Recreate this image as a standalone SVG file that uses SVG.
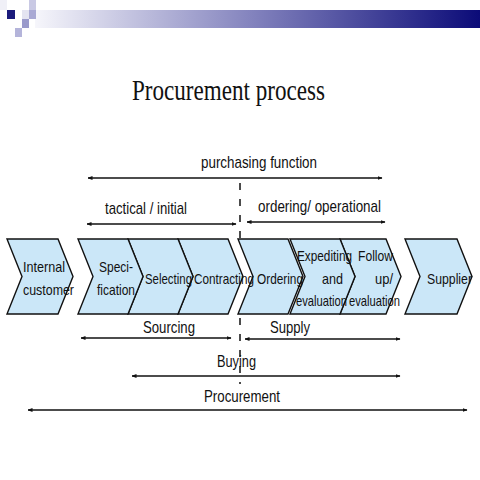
<svg xmlns="http://www.w3.org/2000/svg" width="480" height="480" viewBox="0 0 480 480">
<defs>
<linearGradient id="bar" x1="0" y1="0" x2="1" y2="0">
<stop offset="0" stop-color="#f6f6fb"/>
<stop offset="0.5" stop-color="#8080bc"/>
<stop offset="1" stop-color="#0b0b78"/>
</linearGradient>
<marker id="ah" viewBox="0 0 10 10" refX="9" refY="5" markerWidth="5" markerHeight="5" orient="auto-start-reverse" markerUnits="userSpaceOnUse">
<path d="M0,1 L10,5 L0,9 Z" fill="#111"/>
</marker>
<style>
.chev{fill:#cbe7f8;stroke:#111;stroke-width:1.4;stroke-linejoin:miter}
.t{font-family:"Liberation Sans",Arial,sans-serif;font-size:15px;fill:#111}
.l{font-family:"Liberation Sans",Arial,sans-serif;font-size:17px;fill:#111}
.arr{stroke:#111;stroke-width:1.5;fill:none;marker-start:url(#ah);marker-end:url(#ah)}
.dash{stroke:#111;stroke-width:1.5;stroke-dasharray:7 9;fill:none}
</style>
</defs>
<rect width="480" height="480" fill="#fff"/>
<g id="header">
<rect x="35" y="10" width="445" height="18" fill="url(#bar)"/>
<rect x="0" y="0" width="7" height="10" fill="#f0f0f7"/>
<rect x="22" y="10" width="7" height="9" fill="#e4e4f1"/>
<rect x="29" y="0" width="7" height="10" fill="#c9c9e4"/>
<rect x="7" y="10" width="8" height="9" fill="#1b1b7c"/>
<rect x="29" y="10" width="7" height="9" fill="#a9a9d4"/>
<rect x="22" y="19" width="7" height="9" fill="#9a9acb"/>
<rect x="15" y="28" width="7" height="9" fill="#b4b4da"/>
</g>
<text x="132" y="100" font-family="'Liberation Serif','DejaVu Serif',serif" font-size="29" fill="#111" textLength="193" lengthAdjust="spacingAndGlyphs">Procurement process</text>

<g id="supplier">
<path class="chev" d="M405,239 L457,239 L472,276.5 L457,314 L405,314 L420,276.5 Z"/>
<text class="t" x="427" y="284" textLength="45" lengthAdjust="spacingAndGlyphs">Supplier</text>
</g>
<g id="follow-up">
<path class="chev" d="M340,239 L386,239 L401,276.5 L386,314 L340,314 L355,276.5 Z"/>
<text class="t" x="358" y="261" textLength="35" lengthAdjust="spacingAndGlyphs">Follow</text>
<text class="t" x="375" y="284" textLength="18" lengthAdjust="spacingAndGlyphs">up/</text>
<text class="t" x="349" y="306" textLength="51" lengthAdjust="spacingAndGlyphs">evaluation</text>
</g>
<g id="expediting">
<path class="chev" d="M290,239 L340,239 L355,276.5 L340,314 L290,314 L305,276.5 Z"/>
<text class="t" x="297" y="261" textLength="55" lengthAdjust="spacingAndGlyphs">Expediting</text>
<text class="t" x="322" y="284" textLength="21" lengthAdjust="spacingAndGlyphs">and</text>
<text class="t" x="296" y="306" textLength="51" lengthAdjust="spacingAndGlyphs">evaluation</text>
</g>
<g id="ordering">
<path class="chev" d="M238,239 L288,239 L303,276.5 L288,314 L238,314 L253,276.5 Z"/>
<text class="t" x="257" y="284" textLength="46" lengthAdjust="spacingAndGlyphs">Ordering</text>
</g>
<g id="contracting">
<path class="chev" d="M178,239 L228,239 L243,276.5 L228,314 L178,314 L193,276.5 Z"/>
<text class="t" x="194" y="284" textLength="60" lengthAdjust="spacingAndGlyphs">Contracting</text>
</g>
<g id="selecting">
<path class="chev" d="M128,239 L178,239 L193,276.5 L178,314 L128,314 L143,276.5 Z"/>
<text class="t" x="145" y="284" textLength="47" lengthAdjust="spacingAndGlyphs">Selecting</text>
</g>
<g id="specification">
<path class="chev" d="M78,239 L128,239 L143,276.5 L128,314 L78,314 L93,276.5 Z"/>
<text class="t" x="99" y="272" textLength="34" lengthAdjust="spacingAndGlyphs">Speci-</text>
<text class="t" x="97" y="295" textLength="38" lengthAdjust="spacingAndGlyphs">fication</text>
</g>
<g id="internal-customer">
<path class="chev" d="M7,239 L58,239 L73,276.5 L58,314 L7,314 L22,276.5 Z"/>
<text class="t" x="23" y="272" textLength="42" lengthAdjust="spacingAndGlyphs">Internal</text>
<text class="t" x="23" y="295" textLength="51" lengthAdjust="spacingAndGlyphs">customer</text>
</g>

<g id="connectors">
<line class="dash" x1="240" y1="183" x2="240" y2="238"/>
<line class="dash" x1="240" y1="318" x2="240" y2="384"/>
<line class="arr" x1="88" y1="178" x2="382" y2="178"/>
<line class="arr" x1="87" y1="224" x2="236" y2="224"/>
<line class="arr" x1="247" y1="222" x2="385" y2="222"/>
<line class="arr" x1="81" y1="338" x2="231" y2="338"/>
<line class="arr" x1="245" y1="339" x2="400" y2="339"/>
<line class="arr" x1="132" y1="376" x2="400" y2="376"/>
<line class="arr" x1="28" y1="410" x2="467" y2="410"/>
</g>
<g id="labels">
<text class="l" x="201" y="168" textLength="116" lengthAdjust="spacingAndGlyphs">purchasing function</text>
<text class="l" x="105" y="214" textLength="82" lengthAdjust="spacingAndGlyphs">tactical / initial</text>
<text class="l" x="258" y="212" textLength="123" lengthAdjust="spacingAndGlyphs">ordering/ operational</text>
<text class="l" x="143" y="333" textLength="52" lengthAdjust="spacingAndGlyphs">Sourcing</text>
<text class="l" x="270" y="333" textLength="40" lengthAdjust="spacingAndGlyphs">Supply</text>
<text class="l" x="217" y="367" textLength="39" lengthAdjust="spacingAndGlyphs">Buying</text>
<text class="l" x="204" y="402" textLength="76" lengthAdjust="spacingAndGlyphs">Procurement</text>
</g>
</svg>
